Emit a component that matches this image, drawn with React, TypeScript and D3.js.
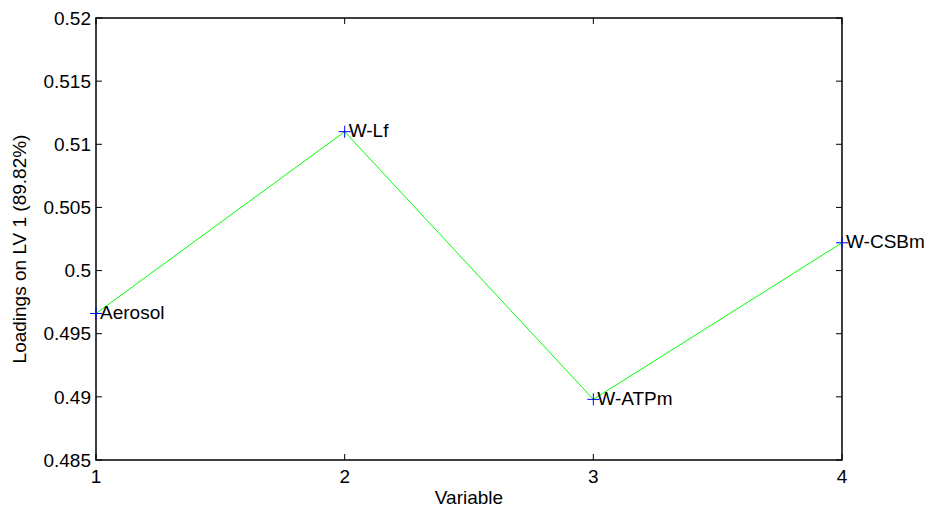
import React from "react";
import * as d3 from "d3";

const variables = [1, 2, 3, 4];
const loadings = [0.4966, 0.511, 0.4898, 0.5022];
const labels = ["Aerosol", "W-Lf", "W-ATPm", "W-CSBm"];
const yTicks = [0.485, 0.49, 0.495, 0.5, 0.505, 0.51, 0.515, 0.52];
const yTickLabels = ["0.485", "0.49", "0.495", "0.5", "0.505", "0.51", "0.515", "0.52"];

export default function App() {
  const W = 931, H = 509;
  const left = 96, right = 842, top = 18, bottom = 460;
  const x = d3.scaleLinear().domain([1, 4]).range([left, right]);
  const y = d3.scaleLinear().domain([0.485, 0.52]).range([bottom, top]);
  const line = d3.line<number>().x((_, i) => x(variables[i])).y((d) => y(d));
  const font = "'Liberation Sans', Arial, sans-serif";
  const fs = 19;
  const tl = 6;
  return (
    <svg width={W} height={H} style={{ position: "absolute", left: 0, top: 0, background: "#fff" }}>
      <rect x={0} y={0} width={W} height={H} fill="#fff" />
      <rect x={left} y={top} width={right - left} height={bottom - top} fill="none" stroke="#000" strokeWidth={1.5} />
      {yTicks.map((t, i) => (
        <g key={t}>
          <line x1={left} x2={left + tl} y1={y(t)} y2={y(t)} stroke="#000" />
          <line x1={right} x2={right - tl} y1={y(t)} y2={y(t)} stroke="#000" />
          <text x={left - 5} y={y(t)} dy="0.35em" textAnchor="end" fontFamily={font} fontSize={fs} fill="#000">{yTickLabels[i]}</text>
        </g>
      ))}
      {variables.map((v) => (
        <g key={v}>
          <line x1={x(v)} x2={x(v)} y1={bottom} y2={bottom - tl} stroke="#000" />
          <line x1={x(v)} x2={x(v)} y1={top} y2={top + tl} stroke="#000" />
          <text x={x(v)} y={bottom + 23} textAnchor="middle" fontFamily={font} fontSize={fs} fill="#000">{v}</text>
        </g>
      ))}
      <path d={line(loadings) || ""} fill="none" stroke="#00ff00" strokeWidth={1} />
      {loadings.map((v, i) => (
        <g key={i}>
          <line x1={x(variables[i]) - 6} x2={x(variables[i]) + 6} y1={y(v)} y2={y(v)} stroke="#0000ff" strokeWidth={1} />
          <line x1={x(variables[i])} x2={x(variables[i])} y1={y(v) - 6} y2={y(v) + 6} stroke="#0000ff" strokeWidth={1} />
          <text x={x(variables[i]) + 4} y={y(v)} dy="0.3em" fontFamily={font} fontSize={fs} fill="#000">{labels[i]}</text>
        </g>
      ))}
      <text x={(left + right) / 2} y={504} textAnchor="middle" fontFamily={font} fontSize={fs} fill="#000">Variable</text>
      <text transform={`translate(26, ${(top + bottom) / 2 + 10}) rotate(-90)`} textAnchor="middle" fontFamily={font} fontSize={fs} fill="#000">Loadings on LV 1 (89.82%)</text>
    </svg>
  );
}
